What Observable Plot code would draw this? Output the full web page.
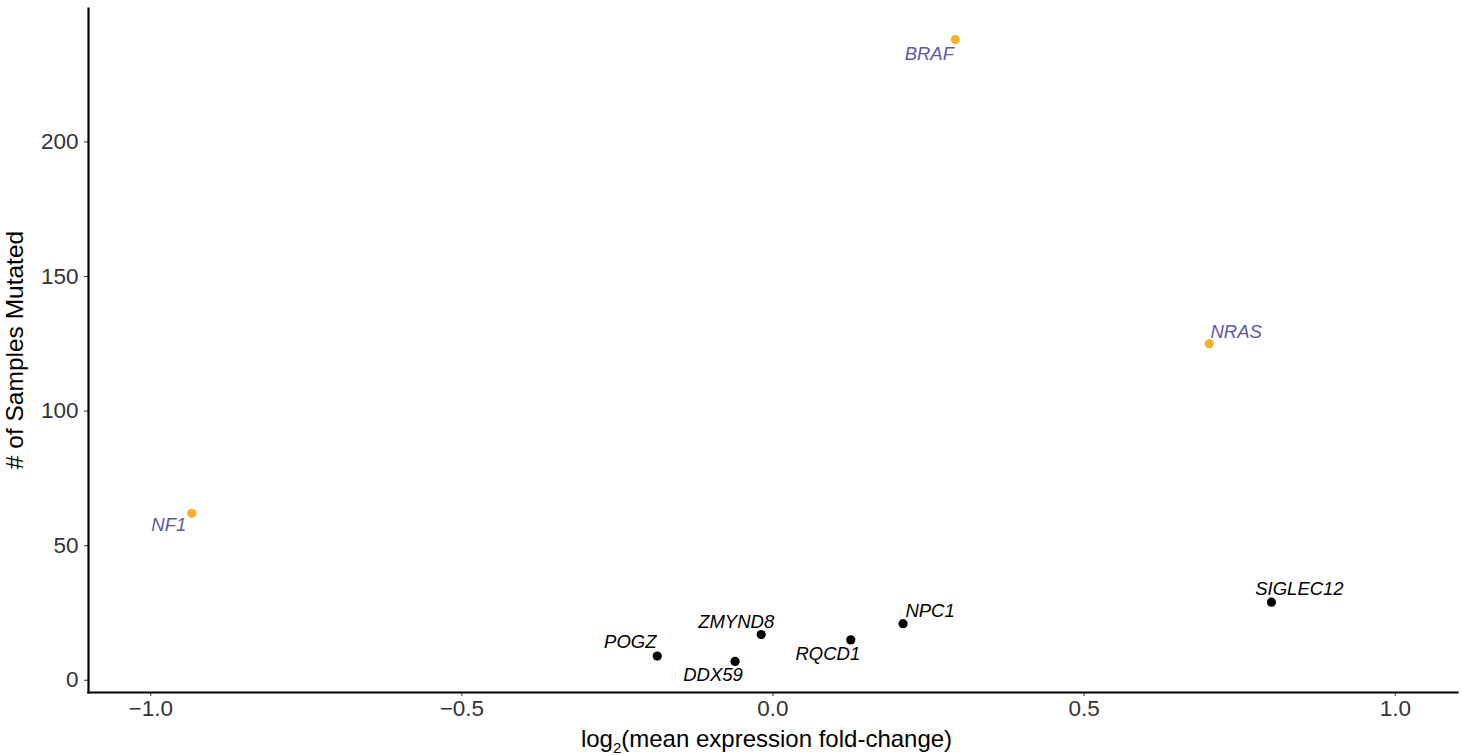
<!DOCTYPE html>
<html>
<head>
<meta charset="utf-8">
<script src="https://cdn.jsdelivr.net/npm/d3@7"></script>
<script src="https://cdn.jsdelivr.net/npm/@observablehq/plot@0.6"></script>
<style>
  body { margin: 0; background: #fff; }
  #chart svg { display: block; }
</style>
</head>
<body>
<div id="chart"></div>
<script>
// Genes, their log2 mean expression fold-change and number of mutated samples
const genes = ["BRAF", "NRAS", "NF1", "SIGLEC12", "NPC1", "RQCD1", "ZMYND8", "DDX59", "POGZ"];
const log2FoldChange = [0.293, 0.701, -0.934, 0.801, 0.209, 0.125, -0.019, -0.061, -0.186];
const samplesMutated = [238, 125, 62, 29, 21, 15, 17, 7, 9];
const driverGenes = ["BRAF", "NRAS", "NF1"];
const xTicks = [-1.0, -0.5, 0.0, 0.5, 1.0];
const yTicks = [0, 50, 100, 150, 200];

const rows = genes.map((gene, i) => ({
  gene,
  fc: log2FoldChange[i],
  n: samplesMutated[i],
  driver: driverGenes.includes(gene)
}));

// Repel-style label nudges in pixels, relative to each point
const nudge = {
  BRAF: [-26, 14], NRAS: [27, -12], NF1: [-23, 12],
  SIGLEC12: [28, -13], NPC1: [27, -13], RQCD1: [-23, 14],
  ZMYND8: [-25, -12], DDX59: [-22, 14], POGZ: [-27, -14]
};

const font = "'Liberation Sans', Arial, Helvetica, sans-serif";
const orange = "#F6B12A";
const purple = "#5F57A6";

// y domain padded by 5% of the data range on both sides
const nMin = d3.min(samplesMutated), nMax = d3.max(samplesMutated);
const pad = 0.05 * (nMax - nMin);

const labelMarks = rows.map(r => Plot.text([r], {
  x: "fc", y: "n", text: "gene",
  dx: nudge[r.gene][0], dy: nudge[r.gene][1],
  fill: r.driver ? purple : "#000",
  fontStyle: "italic", fontSize: 18.5, textAnchor: "middle"
}));

const chart = Plot.plot({
  width: 1463,
  height: 755,
  marginLeft: 88,
  marginRight: 6,
  marginTop: 8,
  marginBottom: 63,
  style: { fontFamily: font, background: "#fff" },
  x: { domain: [-1.1, 1.1], label: null },
  y: { domain: [nMin - pad, nMax + pad], label: null },
  marks: [
    Plot.axisX({ ticks: xTicks, tickFormat: d3.format(".1f"), tickSize: 4, tickPadding: 4,
                 fontSize: 22.5, stroke: "#333", fill: "#333", label: null }),
    Plot.axisY({ ticks: yTicks, tickSize: 4, tickPadding: 6,
                 fontSize: 22.5, stroke: "#333", fill: "#333", label: null }),
    Plot.frame({ anchor: "left", stroke: "#000", strokeWidth: 2.2 }),
    Plot.frame({ anchor: "bottom", stroke: "#000", strokeWidth: 2.2 }),
    Plot.dot(rows, { x: "fc", y: "n", r: 4.6, stroke: null,
                     fill: d => d.driver ? orange : "#000" }),
    ...labelMarks
  ]
});

// Axis titles (the x title carries a subscript)
const svg = d3.select(chart);
const xt = svg.append("text")
  .attr("x", (88 + 1457) / 2 - 6).attr("y", 747)
  .attr("text-anchor", "middle")
  .attr("font-family", font).attr("font-size", 24).attr("fill", "#000");
xt.append("tspan").text("log");
xt.append("tspan").attr("font-size", 15).attr("dy", 6).text("2");
xt.append("tspan").attr("dy", -6).text("(mean expression fold-change)");

svg.append("text")
  .attr("transform", "translate(23,350) rotate(-90)")
  .attr("text-anchor", "middle")
  .attr("font-family", font).attr("font-size", 24.5).attr("fill", "#000")
  .text("# of Samples Mutated");

document.getElementById("chart").appendChild(chart);
</script>
</body>
</html>
